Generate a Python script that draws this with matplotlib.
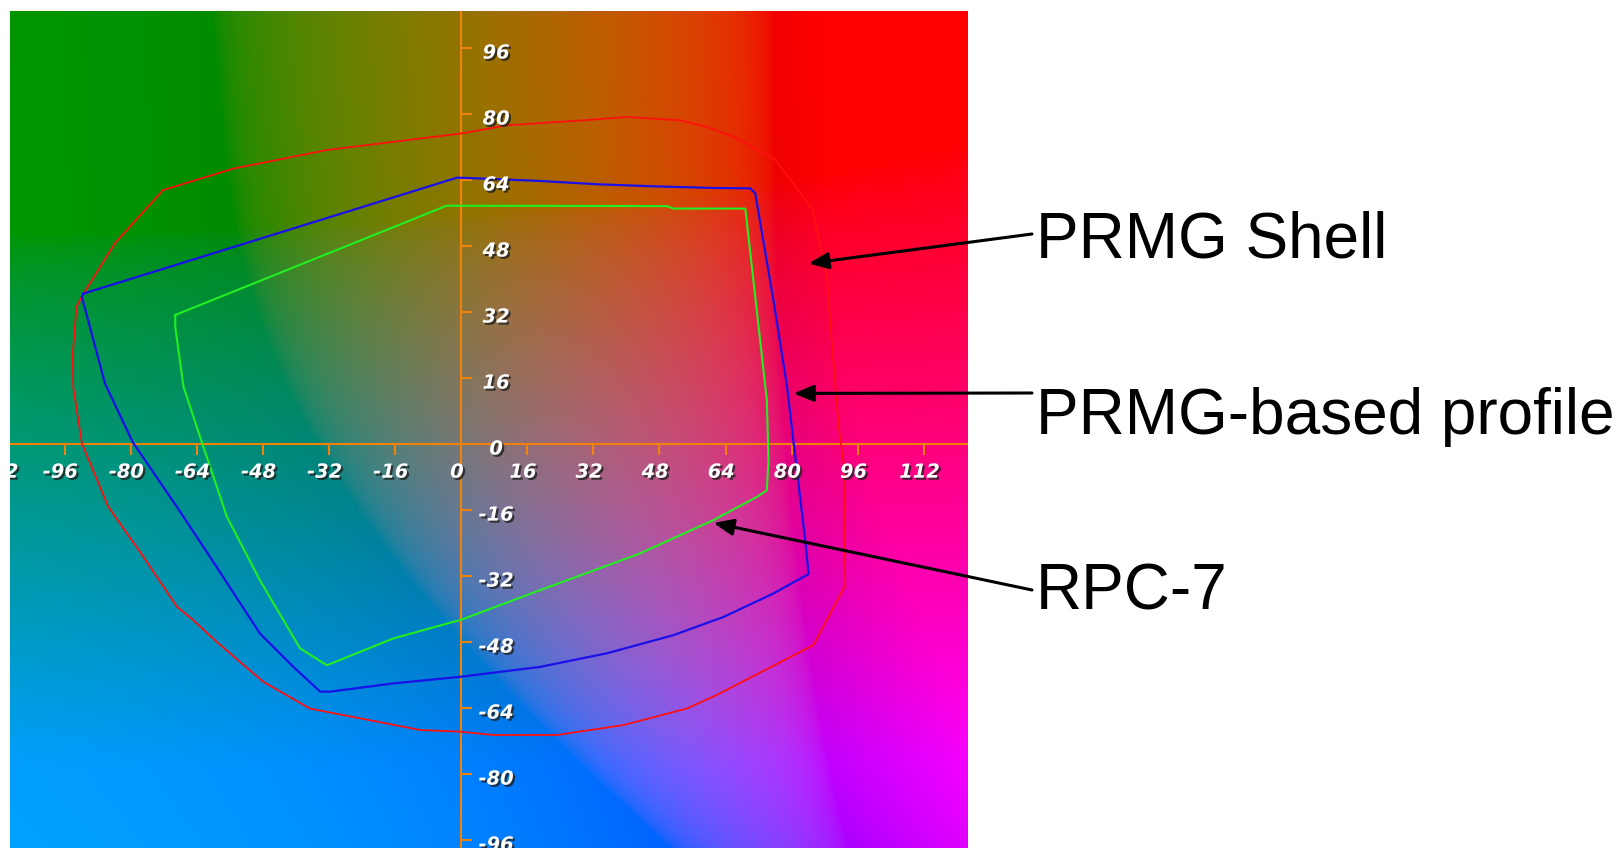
import numpy as np
import matplotlib
matplotlib.use("Agg")
import matplotlib.pyplot as plt
import matplotlib.patheffects as pe

# a*/b* outlines
shell_a = [-91.4, -83.8, -77.3, -72.1, -55.1, -32.5, 0.0, 11.1, 29.6, 40.1, 53.0, 59.5, 65.9,
           76.0, 85.0, 88.5, 89.7, 91.4, 92.6, 93.0, 85.3, 61.9, 54.6, 39.3, 23.2, 7.8,
           -0.2, -9.9, -36.6, -47.9, -59.2, -64.8, -68.8, -76.9, -85.4, -91.8, -93.9, -94.0, -93.1]
shell_b = [36.5, 48.7, 55.9, 61.6, 66.8, 71.3, 75.3, 77.3, 78.5, 79.3, 78.5, 76.9, 74.5,
           69.0, 57.0, 41.4, 25.2, 4.2, -4.7, -34.2, -48.7, -60.8, -64.1, -68.1, -70.5, -70.5,
           -69.7, -69.3, -64.1, -57.6, -47.9, -42.7, -39.4, -27.3, -15.2, 0.2, 13.9, 22.0, 33.3]

profile_a = [-91.4, -1.0, 4.6, 19.1, 32.9, 46.6, 61.1, 70.0, 71.2, 75.6, 78.9, 80.5, 83.3, 84.1,
             75.6, 63.5, 51.4, 35.3, 19.1, 3.0, -0.2, -16.4, -31.7, -34.1, -40.6, -48.7,
             -60.8, -68.8, -79.5, -86.2, -91.8]
profile_b = [36.5, 64.6, 64.4, 63.8, 63.0, 62.5, 62.1, 62.0, 60.8, 34.9, 13.9, 0.2, -23.3, -31.5,
             -36.2, -41.9, -46.3, -50.7, -54.0, -56.0, -56.4, -58.0, -60.0, -60.0, -54.0, -45.9,
             -27.3, -15.2, 0.5, 14.7, 35.7]

rpc_a = [-69.2, -3.5, 49.8, 51.4, 68.8, 74.0, 74.4, 74.0, 71.6, 61.1, 43.3, 19.1, 0.2,
         -16.4, -32.5, -39.0, -48.7, -56.7, -62.8, -67.2, -69.2]
rpc_b = [31.3, 57.8, 57.7, 57.1, 57.1, 10.7, -3.9, -11.2, -12.8, -18.4, -26.5, -35.4, -42.5,
         -47.1, -53.6, -49.5, -33.0, -17.6, 0.6, 13.9, 28.4]

x_ticks = [-112, -96, -80, -64, -48, -32, -16, 0, 16, 32, 48, 64, 80, 96, 112]
y_ticks = [-96, -80, -64, -48, -32, -16, 0, 16, 32, 48, 64, 80, 96]

labels = ["PRMG Shell", "PRMG-based profile", "RPC-7"]
arrow_tips = [(84.1, 43.8), (80.5, 12.3), (61.1, -19.1)]

W, H = 1622, 848
fig = plt.figure(figsize=(W / 100, H / 100), dpi=100)
fig.patch.set_facecolor("white")

# plot area in pixels
left, right, top, bottom = 10, 968, 11, 848
ax = fig.add_axes([left / W, (H - bottom) / H, (right - left) / W, (bottom - top) / H])
xlim = (-109.2, 122.7)
ylim = (-97.9, 105.0)
ax.set_xlim(*xlim)
ax.set_ylim(*ylim)
ax.axis("off")

# Lab (L=50) background
aa, bb = np.meshgrid(np.linspace(xlim[0], xlim[1], 600), np.linspace(ylim[1], ylim[0], 520))
fy = (50 + 16) / 116.0
fx = fy + aa / 500.0
fz = fy - bb / 200.0


def finv(t):
    return np.where(t > 6 / 29, t ** 3, 3 * (6 / 29) ** 2 * (t - 4 / 29))


X = 0.95047 * finv(fx)
Y = finv(np.full_like(aa, fy))
Z = 1.08883 * finv(fz)
r = 3.2406 * X - 1.5372 * Y - 0.4986 * Z
g = -0.9689 * X + 1.8758 * Y + 0.0415 * Z
b = 0.0557 * X - 0.2040 * Y + 1.0570 * Z
rgb = np.clip(np.dstack([r, g, b]), 0, 1)
rgb = np.where(rgb <= 0.0031308, 12.92 * rgb, 1.055 * rgb ** (1 / 2.4) - 0.055)
ax.imshow(rgb, extent=[xlim[0], xlim[1], ylim[0], ylim[1]], aspect="auto", interpolation="bilinear")

# axes cross
orange = "#f0820a"
ax.axhline(0, color=orange, lw=1.5)
ax.axvline(0, color=orange, lw=1.5)
tl = 2.4
shadow = [pe.SimplePatchShadow(offset=(1.5, -1.5), shadow_rgbFace="#202020", alpha=0.8), pe.Normal()]
for t in x_ticks:
    if t != 0:
        ax.plot([t, t], [0, -tl], color=orange, lw=1.5)
    ax.text(t - 1.0, -6.8, str(t), color="white", fontsize=14, fontstyle="italic",
            fontweight="bold", ha="center", va="center", clip_on=True, path_effects=shadow)
for t in y_ticks:
    if t != 0:
        ax.plot([0, tl], [t, t], color=orange, lw=1.5)
    ax.text(8.5, t - 1.2, str(t), color="white", fontsize=14, fontstyle="italic",
            fontweight="bold", ha="center", va="center", clip_on=True, path_effects=shadow)

# gamut outlines
ax.plot(shell_a + shell_a[:1], shell_b + shell_b[:1], color="#ff1010", lw=1.3)
ax.plot(profile_a + profile_a[:1], profile_b + profile_b[:1], color="#1a10e8", lw=1.6)
ax.plot(rpc_a + rpc_a[:1], rpc_b + rpc_b[:1], color="#22ee22", lw=1.5)

# callouts
text_y = [258, 434, 610]
start_y = [234, 393, 590]
for lab, tip, ty, sy in zip(labels, arrow_tips, text_y, start_y):
    ax.annotate("", xy=tip, xycoords="data", xytext=(1032, H - sy), textcoords="figure pixels",
                arrowprops=dict(arrowstyle="-|>,head_length=0.6,head_width=0.25", color="black",
                                lw=2.2, mutation_scale=20, shrinkA=0, shrinkB=0),
                annotation_clip=False)
    fig.text(1036 / W, (H - ty) / H, lab, fontsize=46, family="Liberation Sans",
             ha="left", va="baseline", color="black")

fig.savefig("out.png", dpi=100)
